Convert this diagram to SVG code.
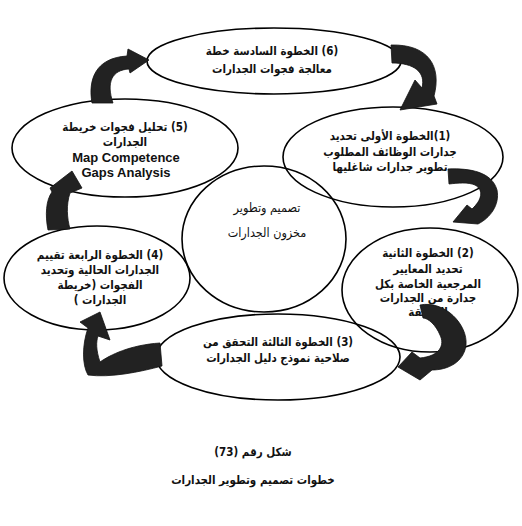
<svg xmlns="http://www.w3.org/2000/svg" width="522" height="526" viewBox="0 0 522 526">
<style>
.ell{fill:none;stroke:#000;stroke-width:1.6}
.t{font-family:"DejaVu Sans Condensed","DejaVu Sans",sans-serif;font-size:11.5px;font-weight:bold;fill:#111;text-anchor:middle;direction:rtl}
.tr{font-family:"DejaVu Sans Condensed","DejaVu Sans",sans-serif;font-size:12.5px;font-weight:normal;fill:#111;text-anchor:middle;direction:rtl}
.en{font-family:"Liberation Sans",Arial,sans-serif;font-size:13px;font-weight:bold;fill:#111;text-anchor:middle}
.arr{fill:#222;stroke:#111;stroke-width:0.8;stroke-linejoin:round}
</style>
<rect width="522" height="526" fill="#fff"/>
<g id="step6">
<ellipse class="ell" cx="274" cy="61" rx="127" ry="33"/>
<text class="t" x="272" y="55">(6) الخطوة السادسة خطة</text>
<text class="t" x="272" y="73">معالجة فجوات الجدارات</text>
</g>
<g id="step1">
<ellipse class="ell" cx="393" cy="157" rx="110" ry="50"/>
<text class="t" x="390" y="140">(1)الخطوة الأولى تحديد</text>
<text class="t" x="390" y="156">جدارات الوظائف المطلوب</text>
<text class="t" x="390" y="171">تطوير جدارات شاغليها</text>
</g>
<g id="step5">
<ellipse class="ell" cx="125" cy="148" rx="113" ry="49"/>
<text class="t" x="125" y="131">(5) تحليل فجوات خريطة</text>
<text class="t" x="125" y="146">الجدارات</text>
<text class="en" x="126" y="162">Map Competence</text>
<text class="en" x="126" y="177">Gaps Analysis</text>
</g>
<g id="center">
<ellipse class="ell" cx="264" cy="239" rx="82" ry="73"/>
<text class="tr" x="267" y="212">تصميم وتطوير</text>
<text class="tr" x="267" y="237">مخزون الجدارات</text>
</g>
<g id="step2">
<ellipse class="ell" cx="430" cy="290" rx="88" ry="62"/>
<text class="t" x="428" y="257">(2) الخطوة الثانية</text>
<text class="t" x="428" y="273">تحديد المعايير</text>
<text class="t" x="428" y="288">المرجعية الخاصة بكل</text>
<text class="t" x="428" y="302">جدارة من الجدارات</text>
<text class="t" x="428" y="316">السابقة</text>
</g>
<g id="step4">
<ellipse class="ell" cx="97" cy="278" rx="93" ry="52"/>
<text class="t" x="100" y="259">(4) الخطوة الرابعة تقييم</text>
<text class="t" x="100" y="274">الجدارات الحالية وتحديد</text>
<text class="t" x="100" y="289">الفجوات (خريطة</text>
<text class="t" x="100" y="304">الجدارات )</text>
</g>
<g id="step3">
<ellipse class="ell" cx="278" cy="357" rx="122" ry="43"/>
<text class="t" x="278" y="346">(3) الخطوة الثالثة التحقق من</text>
<text class="t" x="278" y="362">صلاحية نموذج دليل الجدارات</text>
</g>
<g id="connectors">
<path class="arr" d="M92,103 C88,80 95,58 127,56 L128,49 L149,60 L130,73 L129,69 C112,70 106,82 113,103 Z"/>
<path class="arr" d="M391,45 C428,44 442,66 434,96 L437,104 L400,110 L415,80 L422,88 C426,72 414,63 392,63 Z"/>
<path class="arr" d="M448,169 C470,168 492,172 497,190 C500,205 490,218 478,224 L453,222 L467,205 L472,209 C482,200 484,190 475,185 C468,182 458,183 449,184 Z"/>
<path class="arr" d="M420,305 C445,300 468,325 466,345 C464,362 448,370 432,370 L420,380 L398,367 L412,352 L420,358 C440,356 445,345 440,335 C436,325 428,318 423,318 Z"/>
<path class="arr" d="M160,343 C130,345 110,355 100,362 C96,350 96,342 98,336 L110,340 L100,312 L80,322 L88,328 C82,345 82,365 88,375 C110,378 140,372 162,366 Z"/>
<path class="arr" d="M48,230 C45,215 46,200 52,192 L50,188 L72,171 L82,188 L70,193 C66,205 67,218 70,229 Z"/>
</g>
<g id="caption">
<text class="t" x="253" y="456">شكل رقم (73)</text>
<text class="t" x="253" y="484">خطوات تصميم وتطوير الجدارات</text>
</g>
</svg>
